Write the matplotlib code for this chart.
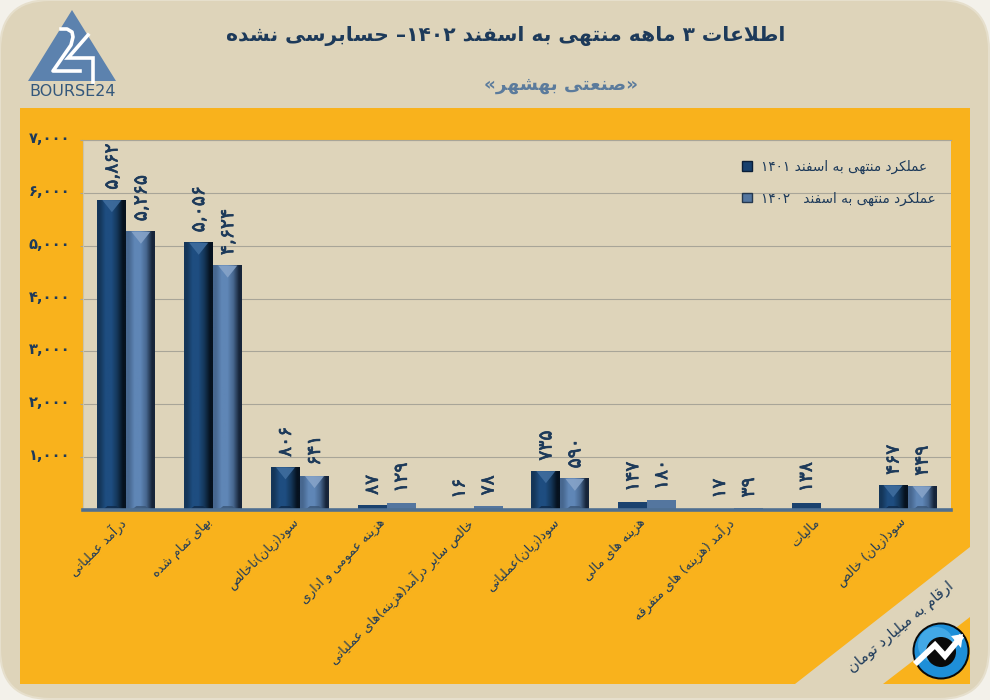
import numpy as np
import matplotlib
matplotlib.use("Agg")
import matplotlib.pyplot as plt
import matplotlib.patheffects as pe
from matplotlib.patches import FancyBboxPatch, Polygon, Circle, Patch
from matplotlib.transforms import ScaledTranslation

# ---------- data ----------
title_text = "اطلاعات ۳ ماهه منتهی به اسفند ۱۴۰۲– حسابرسی نشده"
subtitle_text = "«صنعتی بهشهر»"
unit_text = "ارقام به میلیارد تومان"
categories = ["درآمد عملیاتی", "بهای تمام شده", "سود(زیان)ناخالص", "هزینه عمومی و اداری",
              "خالص سایر درآمد(هزینه)های عملیاتی", "سود(زیان)عملیاتی", "هزینه های مالی",
              "درآمد (هزینه) های متفرقه", "مالیات", "سود(زیان) خالص"]
series_1401 = [5862, 5056, 806, 87, 16, 735, 147, 17, 138, 467]
series_1402 = [5265, 4624, 641, 129, 78, 590, 180, 39, 0, 449]
label_1401 = "عملکرد منتهی به اسفند ۱۴۰۱"
label_1402 = "عملکرد منتهی به اسفند   ۱۴۰۲"
y_ticks = [1000, 2000, 3000, 4000, 5000, 6000, 7000]

# ---------- Persian shaping (matplotlib draws glyphs left to right, unshaped) ----------
def _fe(base, joining=True):
    return (base, base + 1, base + 2, base + 3) if joining else (base, base + 1, None, None)
FORMS = {"ا": _fe(0xFE8D, False), "آ": _fe(0xFE81, False), "ب": _fe(0xFE8F), "پ": _fe(0xFB56), "ت": _fe(0xFE95),
         "ث": _fe(0xFE99), "ج": _fe(0xFE9D), "چ": _fe(0xFB7A), "ح": _fe(0xFEA1), "خ": _fe(0xFEA5),
         "د": _fe(0xFEA9, False), "ذ": _fe(0xFEAB, False), "ر": _fe(0xFEAD, False), "ز": _fe(0xFEAF, False),
         "ژ": _fe(0xFB8A, False), "س": _fe(0xFEB1), "ش": _fe(0xFEB5), "ص": _fe(0xFEB9), "ض": _fe(0xFEBD),
         "ط": _fe(0xFEC1), "ظ": _fe(0xFEC5), "ع": _fe(0xFEC9), "غ": _fe(0xFECD), "ف": _fe(0xFED1),
         "ق": _fe(0xFED5), "ک": _fe(0xFB8E), "گ": _fe(0xFB92), "ل": _fe(0xFEDD), "م": _fe(0xFEE1),
         "ن": _fe(0xFEE5), "و": _fe(0xFEED, False), "ه": _fe(0xFEE9), "ی": _fe(0xFBFC)}
MIRROR = {"(": ")", ")": "(", "«": "»", "»": "«"}
DIGITS = "۰۱۲۳۴۵۶۷۸۹"

def fa(text):
    out = []
    i, n = 0, len(text)
    prev_joins = False
    while i < n:
        c = text[i]
        if c == "ل" and i + 1 < n and text[i + 1] in "اآ":
            out.append(chr(0xFEFC if prev_joins else 0xFEFB))
            prev_joins = False
            i += 2
            continue
        if c in FORMS:
            f = FORMS[c]
            nxt = text[i + 1] if i + 1 < n else ""
            next_ok = nxt in FORMS and f[2] is not None
            if prev_joins and next_ok:
                g = f[3]
            elif prev_joins:
                g = f[1]
            elif next_ok:
                g = f[2]
            else:
                g = f[0]
            out.append(chr(g))
            prev_joins = f[2] is not None
        else:
            out.append(c)
            prev_joins = False
        i += 1
    s = "".join(out)[::-1]
    res, j = [], 0
    while j < len(s):
        if s[j] in DIGITS:
            k = j
            while k < len(s) and s[k] in DIGITS:
                k += 1
            res.append(s[j:k][::-1])
            j = k
        else:
            res.append(MIRROR.get(s[j], s[j]))
            j += 1
    return "".join(res)

def fa_num(v):
    return f"{v:,}".translate(str.maketrans("0123456789", DIGITS))

# ---------- colours ----------
CARD = "#DED4BA"
ORANGE = "#F9B21C"
NAVY = "#1D3A5A"
STEEL = "#5C82AE"
GRID = "#A8A598"

plt.rcParams["font.family"] = ["DejaVu Sans"]
fig = plt.figure(figsize=(9.9, 7.0), dpi=100, facecolor="#F3F1EA")

# ---------- background panels ----------
bg = fig.add_axes([0, 0, 1, 1], zorder=0)
bg.set_xlim(0, 990); bg.set_ylim(700, 0); bg.axis("off")
bg.add_patch(FancyBboxPatch((50, 50), 889, 599, boxstyle="round,pad=50,rounding_size=50",
                            fc=CARD, ec="#E6DFCC", lw=1.5))
bg.add_patch(Polygon([(20, 108), (970, 108), (970, 547), (795, 684), (20, 684)], fc=ORANGE, ec="none"))
bg.add_patch(Polygon([(970, 617), (970, 684), (883, 684)], fc=ORANGE, ec="none"))

# ---------- chart ----------
ax = fig.add_axes([83 / 990, 190 / 700, 868 / 990, 370 / 700], zorder=1)
ax.set_facecolor(CARD)
x = np.arange(len(categories))
bw = 29 / 86.8
px_y = 7000 / 370
px_x = 10 / 868

STYLES = [dict(mid="#1E4D80", left="#143659", right="#06121F", chev="#3F6D9E", foot="#0F2A4A", flat="#1B426E"),
          dict(mid="#5F86B6", left="#47678F", right="#17253A", chev="#86A3C8", foot="#3A5677", flat="#54769F")]

def draw_series(vals, offset, st):
    rects = ax.bar(x + offset, vals, width=bw, color=st["flat"], zorder=3)
    stops = matplotlib.colors.to_rgba_array([st["left"], st["mid"], st["mid"], st["left"], st["right"]])
    grad = stops[np.newaxis, :, :3]
    for r, v in zip(rects, vals):
        if v <= 0:
            continue
        x0, x1 = r.get_x(), r.get_x() + r.get_width()
        if v / px_y >= 15:
            ax.imshow(grad, extent=(x0, x1, 0, v), aspect="auto", interpolation="bilinear", zorder=3.1)
            depth = 12 * px_y
            inset = 5 * px_x
            ax.add_patch(Polygon([(x0 + inset, v), (x1 - inset, v), ((x0 + x1) / 2, v - depth)],
                                 fc=st["chev"], ec="none", alpha=0.9, zorder=3.2))
            foot = 4 * px_y
            ax.add_patch(Polygon([(x0 + inset, 0), (x1 - inset, 0), (x1 - 2 * inset, foot), (x0 + 2 * inset, foot)],
                                 fc=st["foot"], ec="none", alpha=0.8, zorder=3.2))
        t = ax.annotate(fa_num(v), xy=((x0 + x1) / 2, v), xytext=(0, 7.5), textcoords="offset points",
                        rotation=90, ha="center", va="bottom", fontsize=13.5, color=NAVY, zorder=4)
        t.set_path_effects([pe.withStroke(linewidth=0.5, foreground=NAVY)])

draw_series(series_1401, -bw / 2, STYLES[0])
draw_series(series_1402, bw / 2, STYLES[1])

ax.set_xlim(-0.5, 9.5)
ax.set_ylim(0, 7000)
ax.set_yticks(y_ticks)
ax.set_yticklabels([fa_num(v) for v in y_ticks], fontsize=10.5, fontweight="bold", color=NAVY)
ax.tick_params(axis="y", length=2, color=GRID, pad=7)
for lab in ax.get_yticklabels():
    lab.set_transform(lab.get_transform() + ScaledTranslation(0, 2.2 / 72, fig.dpi_scale_trans))
ax.set_xticks(x)
ax.set_xticklabels([fa(c) for c in categories], rotation=45, ha="right", va="top",
                   rotation_mode="anchor", fontsize=9.2, color=NAVY)
ax.tick_params(axis="x", length=0, pad=4)
for lab in ax.get_xticklabels():
    lab.set_transform(lab.get_transform() + ScaledTranslation(-5.8 / 72, 0, fig.dpi_scale_trans))
ax.grid(axis="y", color=GRID, lw=0.8, zorder=1)
ax.set_axisbelow(True)
ax.spines["right"].set_visible(False)
ax.spines["top"].set_color(GRID); ax.spines["top"].set_linewidth(0.8)
ax.spines["left"].set_color("#C9C2AC"); ax.spines["left"].set_linewidth(0.8)
ax.spines["bottom"].set_color("#4F6F91"); ax.spines["bottom"].set_linewidth(2.6)
ax.spines["bottom"].set_zorder(5)

handles = [Patch(fc="#17406E", ec="#0A1E38", lw=1), Patch(fc="#54769F", ec="#24384F", lw=1)]
leg = ax.legend(handles, [fa(label_1401), fa(label_1402)], loc="upper left",
                bbox_to_anchor=((742 - 83) / 868, (510 - 160) / 370), frameon=False, fontsize=9.85,
                handlelength=0.72, handleheight=0.72, handletextpad=0.65, labelspacing=1.25,
                labelcolor=NAVY, borderpad=0, borderaxespad=0)

# ---------- foreground: titles, logos ----------
fg = fig.add_axes([0, 0, 1, 1], zorder=2)
fg.set_xlim(0, 990); fg.set_ylim(700, 0); fg.axis("off"); fg.patch.set_alpha(0)
fg.text(506, 36, fa(title_text), ha="center", va="center", fontsize=14.6, fontweight="bold", color=NAVY)
fg.text(561, 85, fa(subtitle_text), ha="center", va="center", fontsize=13.2, fontweight="bold", color="#5B7B9C")
fg.text(901, 627, fa(unit_text), ha="center", va="center", rotation=40, rotation_mode="anchor",
        fontsize=10.6, color=NAVY)

# Bourse24 logo
fg.add_patch(Polygon([(72, 10), (116, 81), (28, 81)], fc=STEEL, ec="none"))
fg.plot([61, 67, 72, 73, 71, 53, 80], [29, 29, 32, 37, 45, 71, 71], color="white", lw=2.6, solid_joinstyle="round")
fg.plot([88, 68, 93, 93], [35, 58, 58, 82], color="white", lw=2.6, solid_joinstyle="miter")
fg.text(73, 91, "BOURSE24", ha="center", va="center", fontsize=11.5, color="#34587C")

# round badge
fg.add_patch(Circle((941, 651), 28.5, fc="#0A0A0A", ec="none"))
fg.add_patch(Circle((941, 651), 26.5, fc="#1E8FD8", ec="none"))
fg.add_patch(Circle((936, 645), 18, fc="#52B4EC", ec="none", alpha=0.7))
fg.add_patch(Circle((941, 652), 15, fc="#0A0A0A", ec="none"))
fg.plot([917, 935, 945, 960], [662, 645, 656, 638], color="white", lw=4.2, solid_joinstyle="miter")
fg.add_patch(Polygon([(963, 634), (951, 636), (961, 648)], fc="white", ec="none"))

fig.savefig("out.png", dpi=100, facecolor=fig.get_facecolor())
